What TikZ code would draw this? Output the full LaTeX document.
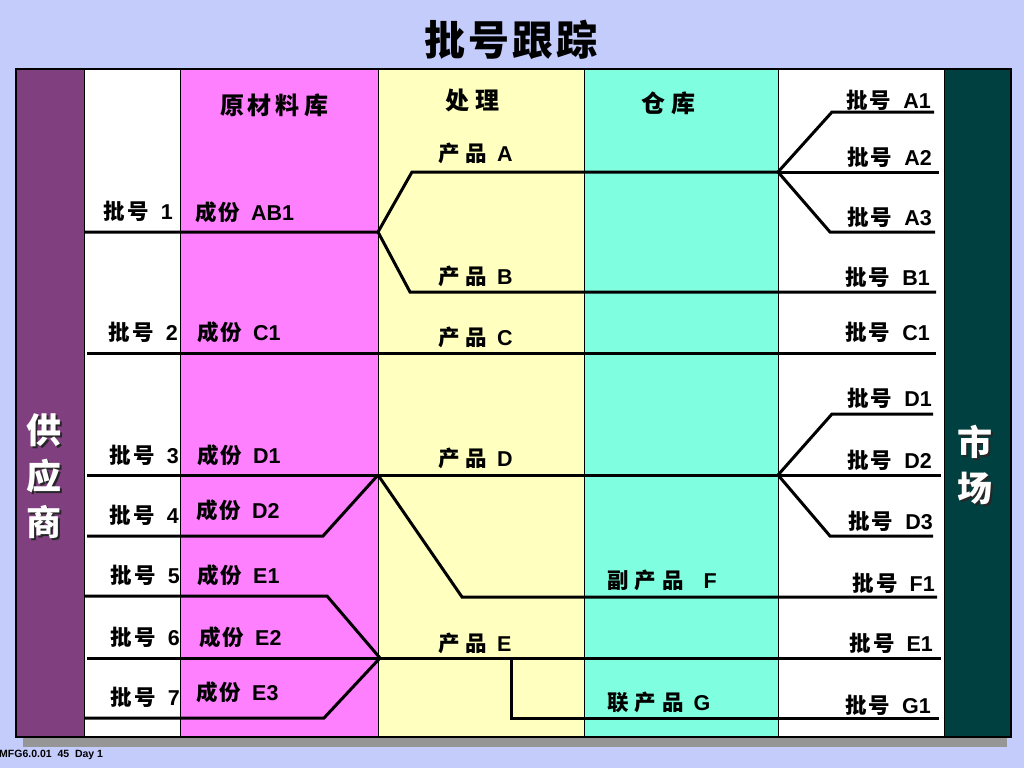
\documentclass[tikz,border=0pt]{standalone}
\usepackage{fontspec}
\setmainfont{Noto Sans CJK SC}
\newfontfamily\footfont{Liberation Sans}
\usepackage{tikz}

\definecolor{slidebg}{RGB}{196,204,252}
\definecolor{framegrey}{RGB}{150,150,150}
\definecolor{supplierbar}{RGB}{128,64,128}
\definecolor{rawpink}{RGB}{255,128,255}
\definecolor{procyellow}{RGB}{255,255,192}
\definecolor{storeaqua}{RGB}{128,255,224}
\definecolor{marketbar}{RGB}{0,64,64}

\newcommand{\lot}[1]{批\hspace{2pt}号\hspace{12pt}{\footfont #1}}
\newcommand{\comp}[1]{成\hspace{2pt}份\hspace{11pt}{\footfont #1}}
\newcommand{\prd}[1]{产\hspace{6pt}品\hspace{10pt}{\footfont #1}}

\begin{document}
\begin{tikzpicture}[x=1pt, y=-1pt,
        lbl/.style = {font=\fontsize{21.5}{24}\selectfont\bfseries, inner sep=0pt},
        lbl left/.style = {lbl, anchor=west},
        lbl right/.style = {lbl, anchor=east},
        head/.style = {font=\fontsize{24}{28}\selectfont\bfseries, inner sep=0pt},
        title/.style = {font=\fontsize{41}{44}\selectfont\bfseries, inner sep=0pt},
        side/.style = {font=\fontsize{35}{46}\selectfont\bfseries, text=white, align=center, inner sep=0pt},
        side shade/.style = {side, text=black!85},
        footer/.style = {font=\footfont\fontsize{10.5}{12}\selectfont\bfseries, inner sep=0pt, anchor=west},
        flow/.style = {line width=3pt},
        sep/.style = {line width=0.8pt},
        ]
        \useasboundingbox (0,0) rectangle (1024,768);
        \fill[slidebg] (0,0) rectangle (1024,768);

        % Title
        \node[title] (title) at (511,40) {批\hspace{3pt}号\hspace{3pt}跟\hspace{3pt}踪};

        % Frame and columns
        \fill[framegrey] (23,80) rectangle (1007,747);
        \fill[supplierbar] (16,69) rectangle (84,737);
        \fill[white] (84,69) rectangle (180,737);
        \fill[rawpink] (180,69) rectangle (378,737);
        \fill[procyellow] (378,69) rectangle (584,737);
        \fill[storeaqua] (584,69) rectangle (778,737);
        \fill[white] (778,69) rectangle (944,737);
        \fill[marketbar] (944,69) rectangle (1011,737);
        \draw[sep] (84,69) -- (84,737);
        \draw[sep] (180,69) -- (180,737);
        \draw[sep] (378,69) -- (378,737);
        \draw[sep] (584,69) -- (584,737);
        \draw[sep] (778,69) -- (778,737);
        \draw[sep] (944,69) -- (944,737);
        \draw[line width=1.2pt] (16,69) rectangle (1011,737);

        % Column heads
        \node[head] (raw) at (274,105) {原\hspace{4pt}材\hspace{4pt}料\hspace{4pt}库};
        \node[head] (proc) at (472,100) {处\hspace{6pt}理};
        \node[head] (store) at (668,103) {仓\hspace{6pt}库};
        \node[side shade] (supplierS) at (46,478) {供\\应\\商};
        \node[side] (supplier) at (44,476) {供\\应\\商};
        \node[side shade] (marketS) at (977,467) {市\\场};
        \node[side] (market) at (975,465) {市\\场};

        % Lot 1 -> products A and B
        \coordinate (lot1) at (84,232);
        \coordinate (jAB) at (378,232);
        \coordinate (bendA) at (412,172);
        \coordinate (jA) at (778,172);
        \coordinate (bendB) at (410,292);
        \coordinate (endB1) at (936,292);
        \draw[flow] (lot1) -- (jAB) -- (bendA) -- (jA);
        \draw[flow] (jAB) -- (bendB) -- (endB1);

        % Product A -> lots A1, A2, A3
        \coordinate (bendA1) at (832,112);
        \coordinate (endA1) at (934,112);
        \coordinate (endA2) at (939,172);
        \coordinate (bendA3) at (830,232);
        \coordinate (endA3) at (935,232);
        \draw[flow] (jA) -- (bendA1) -- (endA1);
        \draw[flow] (jA) -- (endA2);
        \draw[flow] (jA) -- (bendA3) -- (endA3);

        % Lot 2 -> product C
        \coordinate (lot2) at (87,353);
        \coordinate (endC1) at (936,353);
        \draw[flow] (lot2) -- (endC1);

        % Lots 3, 4 -> product D
        \coordinate (lot3) at (87,475);
        \coordinate (jD) at (378,475);
        \coordinate (jDout) at (778,475);
        \coordinate (lot4) at (87,536);
        \coordinate (bend4) at (323,536);
        \draw[flow] (lot3) -- (jD) -- (jDout);
        \draw[flow] (lot4) -- (bend4) -- (jD);

        % Product D -> lots D1, D2, D3
        \coordinate (bendD1) at (832,414);
        \coordinate (endD1) at (933,414);
        \coordinate (endD2) at (941,475);
        \coordinate (bendD3) at (830,536);
        \coordinate (endD3) at (933,536);
        \draw[flow] (jDout) -- (bendD1) -- (endD1);
        \draw[flow] (jDout) -- (endD2);
        \draw[flow] (jDout) -- (bendD3) -- (endD3);

        % By-product F
        \coordinate (bendF) at (462,597);
        \coordinate (endF1) at (937,597);
        \draw[flow] (jD) -- (bendF) -- (endF1);

        % Lots 5, 6, 7 -> product E
        \coordinate (lot5) at (84,596);
        \coordinate (bend5) at (327,596);
        \coordinate (jE) at (380,658);
        \coordinate (lot6) at (87,658);
        \coordinate (endE1) at (941,658);
        \coordinate (lot7) at (84,718);
        \coordinate (bend7) at (324,718);
        \draw[flow] (lot5) -- (bend5) -- (jE);
        \draw[flow] (lot6) -- (jE) -- (endE1);
        \draw[flow] (lot7) -- (bend7) -- (jE);

        % Co-product G
        \coordinate (jG) at (511,658);
        \coordinate (bendG) at (511,718);
        \coordinate (endG1) at (939,718);
        \draw[flow] (jG) -- (bendG) -- (endG1);

        % Supplier lots
        \node[lbl right] (s1) at (173,211) {\lot{1}};
        \node[lbl right] (s2) at (178,332) {\lot{2}};
        \node[lbl right] (s3) at (179,455) {\lot{3}};
        \node[lbl right] (s4) at (179,515) {\lot{4}};
        \node[lbl right] (s5) at (180,575) {\lot{5}};
        \node[lbl right] (s6) at (180,637) {\lot{6}};
        \node[lbl right] (s7) at (180,697) {\lot{7}};

        % Components
        \node[lbl left] (cAB1) at (195,212) {\comp{AB1}};
        \node[lbl left] (cC1) at (197,332) {\comp{C1}};
        \node[lbl left] (cD1) at (197,455) {\comp{D1}};
        \node[lbl left] (cD2) at (196,510) {\comp{D2}};
        \node[lbl left] (cE1) at (197,575) {\comp{E1}};
        \node[lbl left] (cE2) at (199,637) {\comp{E2}};
        \node[lbl left] (cE3) at (196,692) {\comp{E3}};

        % Products
        \node[lbl left] (pA) at (438,153) {\prd{A}};
        \node[lbl left] (pB) at (438,276) {\prd{B}};
        \node[lbl left] (pC) at (438,337) {\prd{C}};
        \node[lbl left] (pD) at (438,458) {\prd{D}};
        \node[lbl left] (pE) at (438,643) {\prd{E}};
        \node[lbl left] (pF) at (607,580) {副\hspace{6pt}产\hspace{6pt}品\hspace{20pt}{\footfont F}};
        \node[lbl left] (pG) at (607,702) {联\hspace{6pt}产\hspace{6pt}品\hspace{10pt}{\footfont G}};

        % Market lots
        \node[lbl right] (mA1) at (931,100) {\lot{A1}};
        \node[lbl right] (mA2) at (932,157) {\lot{A2}};
        \node[lbl right] (mA3) at (932,217) {\lot{A3}};
        \node[lbl right] (mB1) at (930,277) {\lot{B1}};
        \node[lbl right] (mC1) at (930,332) {\lot{C1}};
        \node[lbl right] (mD1) at (932,398) {\lot{D1}};
        \node[lbl right] (mD2) at (932,460) {\lot{D2}};
        \node[lbl right] (mD3) at (933,521) {\lot{D3}};
        \node[lbl right] (mF1) at (935,583) {\lot{F1}};
        \node[lbl right] (mE1) at (933,643) {\lot{E1}};
        \node[lbl right] (mG1) at (931,705) {\lot{G1}};

        % Footer
        \node[footer] (foot) at (-1,755) {MFG6.0.01\ \ 45\ \ Day 1};
    \end{tikzpicture}
\end{document}
